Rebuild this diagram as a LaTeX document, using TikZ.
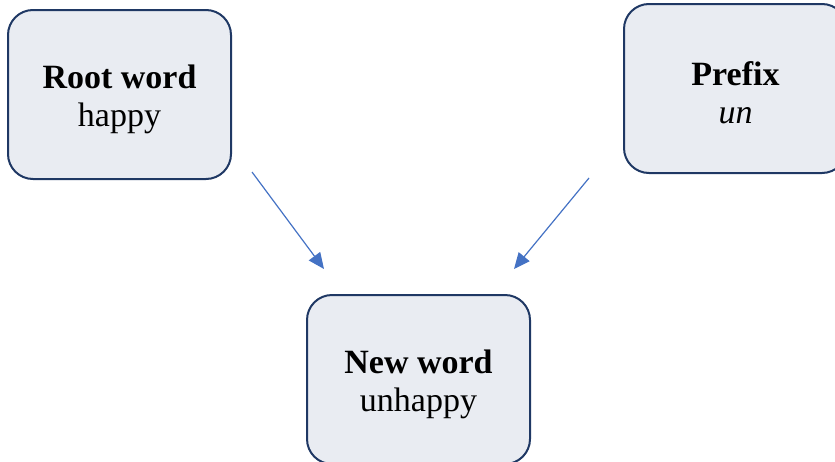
\documentclass[tikz,border=0pt]{standalone}
\usepackage{fontspec}
\setmainfont{Liberation Serif}
\usetikzlibrary{arrows.meta}
\definecolor{boxfill}{HTML}{E9ECF2}
\definecolor{boxline}{HTML}{1F3864}
\definecolor{arrowblue}{HTML}{4472C4}
\tikzset{
  wordbox/.style={draw=boxline, line width=2pt, fill=boxfill, rounded corners=25pt,
    minimum width=223pt, minimum height=169pt, inner sep=0pt, anchor=center},
  wordtxt/.style={align=center, inner sep=0pt, font=\fontsize{34pt}{38pt}\selectfont},
  link/.style={draw=arrowblue, line width=1.2pt, -{Triangle[length=16pt,width=14pt]}}
}
\begin{document}
\begin{tikzpicture}[x=1pt,y=-1pt]
\useasboundingbox (0,0) rectangle (835,461);
\node[wordbox] (root) at (119.5,94.5) {};
\node[wordbox] (prefix) at (735.5,88.5) {};
\node[wordbox] (new) at (418.5,379.5) {};
\node[wordtxt] (roottxt) at (119.5,99) {\textbf{Root word}\\happy};
\node[wordtxt] (prefixtxt) at (735.5,93) {\textbf{Prefix}\\\textit{un}};
\node[wordtxt] (newtxt) at (418.5,384) {\textbf{New word}\\unhappy};
\coordinate (a1) at (252,172);
\coordinate (a2) at (324,269);
\coordinate (b1) at (589,178);
\coordinate (b2) at (514,269);
\draw[link] (a1) -- (a2);
\draw[link] (b1) -- (b2);
\end{tikzpicture}
\end{document}
